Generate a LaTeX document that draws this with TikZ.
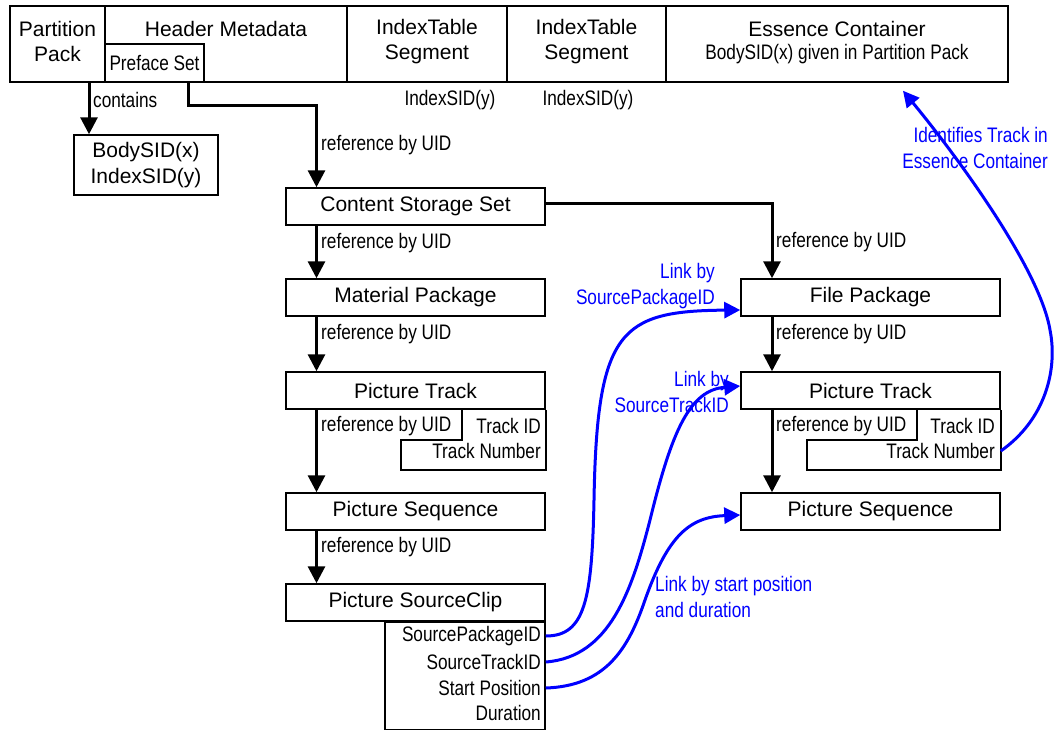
\documentclass[tikz,border=0pt]{standalone}
\usepackage{fontspec}
\setmainfont{Liberation Sans}
\newfontfamily\nf[FakeStretch=0.82]{Liberation Sans}
\usetikzlibrary{arrows.meta}
\tikzset{
 box/.style={draw, line width=1.5pt, inner sep=0pt, minimum height=37pt, minimum width=259pt},
 topbox/.style={draw, line width=1.5pt, inner sep=0pt, minimum height=76pt},
 reg/.style={font=\fontsize{21}{25.5}\selectfont, inner sep=0pt, align=center},
 nar/.style={font=\nf\fontsize{21}{25.5}\selectfont, inner sep=0pt},
 blu/.style={nar, text=blue},
 arr/.style={line width=3pt, -{Triangle[width=17pt,length=17pt]}},
 barr/.style={draw=blue, line width=3pt, -{Triangle[width=16pt,length=16pt]}},
 thin/.style={line width=1.5pt},
}
\begin{document}
\begin{tikzpicture}[x=1pt,y=-1pt]
\useasboundingbox (0,0) rectangle (1055,729);
% top row
\node[topbox, minimum width=95pt] (pp) at (57.5,44) {};
\node[topbox, minimum width=242pt] (hm) at (226,44) {};
\node[topbox, minimum width=160pt] (it1) at (427,44) {};
\node[topbox, minimum width=159pt] (it2) at (586.5,44) {};
\node[topbox, minimum width=342pt] (ec) at (837,44) {};
\node[draw, thin, inner sep=0pt, minimum width=99pt, minimum height=38pt] (pf) at (154.5,63) {};
\node[reg] (ppt) at (57.5,41.5) {Partition\\Pack};
\node[reg] (hmt) at (226,29) {Header Metadata};
\node[nar] (pft) at (154.5,63) {Preface Set};
\node[reg] (it1t) at (427,41.5) {IndexTable\\Segment};
\node[reg] (it2t) at (586.5,41.5) {IndexTable\\Segment};
\node[reg] (ect) at (837,29) {Essence Container};
\node[nar] (ecs) at (837,54) {BodySID(x) given in Partition Pack};
\node[nar] (ix1) at (450,100) {IndexSID(y)};
\node[nar] (ix2) at (588,100) {IndexSID(y)};
% body box
\node[draw, thin, minimum width=144pt, minimum height=60pt, reg] (body) at (146,165) {BodySID(x)\\IndexSID(y)};
\draw[arr] ([xshift=31.5pt]pp.south) -- ([xshift=31.5pt]pp.south |- body.north);
\node[nar, anchor=west] (cont) at (93,100) {contains};
% left column
\node[box, reg] (css) at (415.5,206.5) {Content Storage Set};
\node[box, reg] (mp) at (415.5,297.5) {Material Package};
\node[box, reg] (pt) at (415.5,390.5) {Picture Track};
\node[box, reg] (ps) at (415.5,511.5) {Picture Sequence};
\node[box, reg] (sc) at (415.5,602.5) {Picture SourceClip};
\draw[arr] ([xshift=33.5pt]pf.south) -- ++(0,23) -| ([xshift=-99pt]css.north);
\node[nar, anchor=west] (r0) at (321,145) {reference by UID};
\draw[arr] ([xshift=-99pt]css.south) -- ([xshift=-99pt]mp.north);
\node[nar, anchor=west] (r1) at (321,243) {reference by UID};
\draw[arr] ([xshift=-99pt]mp.south) -- ([xshift=-99pt]pt.north);
\node[nar, anchor=west] (r2) at (321,334) {reference by UID};
\draw[arr] ([xshift=-99pt]pt.south) -- ([xshift=-99pt]ps.north);
\node[nar, anchor=west] (r3) at (321,426) {reference by UID};
\draw[arr] ([xshift=-99pt]ps.south) -- ([xshift=-99pt]sc.north);
\node[nar, anchor=west] (r4) at (321,547) {reference by UID};
\draw[thin] (pt.south east) -- ++(0,60) -- ++(-145,0) -- ++(0,-30) -- ++(61,0) -- ++(0,-30);
\node[nar, anchor=east] (tid) at (541,426) {Track ID};
\node[nar, anchor=east] (tnum) at (541,451) {Track Number};
\node[draw, thin, inner sep=0pt, minimum width=160pt, minimum height=107pt, anchor=north east] (attr) at (sc.south east) {};
\node[nar, anchor=east] (spid) at (541,636) {SourcePackageID};
\node[nar, anchor=east] (stid) at (541,662) {SourceTrackID};
\node[nar, anchor=east] (spos) at (541,688) {Start Position};
\node[nar, anchor=east] (dur) at (541,713) {Duration};
% right column
\node[box, reg] (fp) at (870.5,297.5) {File Package};
\node[box, reg] (rpt) at (870.5,390.5) {Picture Track};
\node[box, reg] (rps) at (870.5,511.5) {Picture Sequence};
\draw[arr] ([yshift=3.5pt]css.east) -| ([xshift=-98.5pt]fp.north);
\node[nar, anchor=west] (r5) at (776,242) {reference by UID};
\draw[arr] ([xshift=-98.5pt]fp.south) -- ([xshift=-98.5pt]rpt.north);
\node[nar, anchor=west] (r6) at (776,334) {reference by UID};
\draw[arr] ([xshift=-98.5pt]rpt.south) -- ([xshift=-98.5pt]rps.north);
\node[nar, anchor=west] (r7) at (776,426) {reference by UID};
\draw[thin] (rpt.south east) -- ++(0,60) -- ++(-194,0) -- ++(0,-30) -- ++(110,0) -- ++(0,-30);
\node[nar, anchor=east] (rtid) at (995,426) {Track ID};
\node[nar, anchor=east] (rtnum) at (995,451) {Track Number};
% blue links
\draw[barr] (attr.east |- spid) .. controls (585,636) and (592,600) .. (594,500) .. controls (597,330) and (620,311) .. ([yshift=-12.5pt]fp.west);
\draw[barr] (attr.east |- stid) .. controls (610,657) and (632,590) .. (650,520) .. controls (672,430) and (690,390) .. ([yshift=4.5pt]rpt.west);
\draw[barr] (attr.east |- spos) .. controls (605,686) and (628,650) .. (645,600) .. controls (668,535) and (690,517) .. ([yshift=-3.5pt]rps.west);
\draw[barr] (rpt.east |- rtnum) .. controls (1045,420) and (1058,370) .. (1050,330) .. controls (1040,270) and (960,160) .. ([xshift=66pt,yshift=-8pt]ec.south);
\node[blu, anchor=east, align=right] (l1) at (715,286) {Link by\\SourcePackageID};
\node[blu, anchor=east, align=right] (l2) at (729,392) {Link by\\SourceTrackID};
\node[blu, anchor=west, align=left] (l3) at (655,597) {Link by start position\\and duration};
\node[blu, anchor=east, align=right] (l4) at (1048,148) {Identifies Track in\\Essence Container};
\end{tikzpicture}
\end{document}
